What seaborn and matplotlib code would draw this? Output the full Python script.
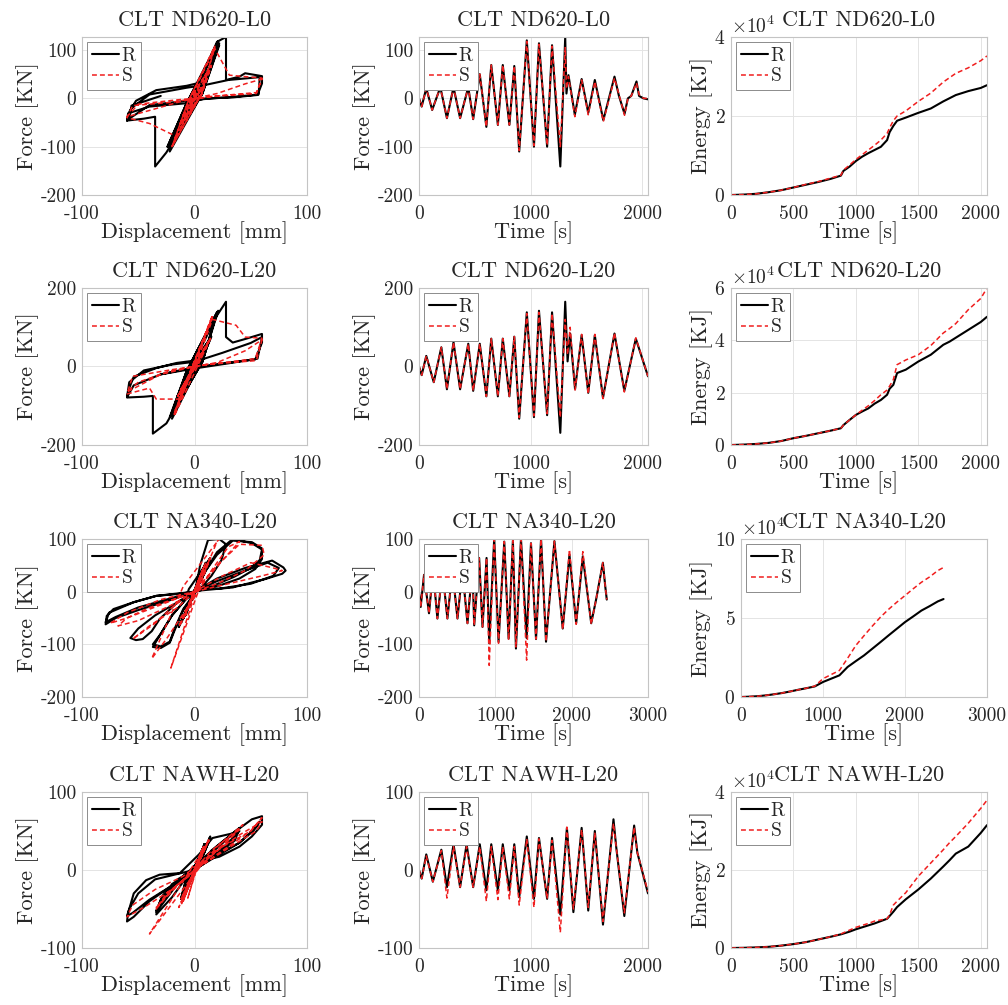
import matplotlib
matplotlib.use("Agg")
import matplotlib.pyplot as plt
from matplotlib.ticker import ScalarFormatter
import seaborn as sns

# ---------------------------------------------------------------- data
# Force-time histories (peaks of each half cycle), kN
l0_time = [0, 24, 65, 118, 191, 250, 309, 368, 441, 485, 544, 603, 647, 706, 750, 809, 853, 897, 965, 1029,
           1074, 1147, 1191, 1265, 1309, 1320, 1338, 1395, 1456, 1515, 1574, 1650, 1750, 1790, 1840, 1870,
           1900, 1947, 1970, 2010, 2050]
l0_force_R = [0, -17, 21, -24, 23, -41, 23, -41, 23, -43, 50, -59, 69, -55, 69, -55, 67, -110, 120, -100,
              114, -100, 110, -141, 127, 10, 48, -34, 40, -30, 38, -45, 45, 5, -32, 0, 5, 35, 5, 0, -2]
l0_force_S = [0, -17, 21, -24, 23, -41, 23, -41, 23, -43, 50, -59, 69, -55, 69, -55, 67, -108, 118, -98,
              112, -97, 108, -100, 105, 20, 45, -38, 38, -34, 35, -48, 42, 8, -35, 0, 5, 32, 8, 0, 0]

l20_time = [0, 24, 65, 132, 200, 250, 309, 368, 441, 485, 544, 603, 647, 706, 750, 809, 853, 897, 965, 1029,
            1074, 1147, 1191, 1265, 1309, 1330, 1353, 1397, 1456, 1515, 1574, 1647, 1750, 1838, 1941, 2050]
l20_force_R = [0, -22, 27, -40, 49, -58, 62, -58, 58, -62, 58, -76, 71, -76, 71, -76, 76, -133, 138, -129,
               142, -124, 138, -169, 165, 13, 84, -58, 80, -67, 80, -80, 84, -62, 71, -25]
l20_force_S = [0, -22, 27, -40, 49, -58, 62, -58, 58, -62, 58, -76, 71, -76, 71, -76, 76, -130, 135, -126,
               138, -120, 135, -130, 120, 30, 100, -60, 82, -70, 82, -82, 86, -65, 73, -25]

na340_time = [0, 22, 66, 131, 184, 241, 307, 372, 438, 504, 569, 635, 700, 723, 788, 832, 885, 920, 985, 1042,
              1117, 1174, 1230, 1270, 1336, 1410, 1467, 1533, 1599, 1664, 1774, 1883, 1971, 2059, 2146, 2256,
              2320, 2409, 2440, 2460]
na340_force_R = [0, -29, 32, -41, 40, -51, 40, -51, 40, -51, 40, -60, 48, -64, 64, -67, 64, -98, 100, -95,
                 95, -89, 97, -108, 100, -88, 92, -90, 100, -95, 96, -70, 70, -60, 67, -60, -15, 55, 10, -15]
na340_force_S = [0, -29, 32, -41, 40, -51, 40, -51, 40, -51, 40, -60, 48, -64, 64, -67, 64, -140, 100, -98,
                 95, -92, 97, -105, 100, -130, 92, -90, 100, -95, 96, -72, 80, -62, 76, -62, -15, 55, 10, -15]

nawh_time = [0, 24, 65, 124, 200, 250, 309, 368, 426, 485, 544, 603, 647, 706, 750, 809, 853, 897, 965, 1029,
             1074, 1147, 1191, 1265, 1324, 1382, 1456, 1515, 1574, 1647, 1741, 1765, 1838, 1926, 1955, 2050]
nawh_force_R = [0, -11, 20, -15, 26, -22, 33, -22, 33, -22, 33, -26, 33, -26, 33, -26, 33, -35, 43, -37,
                41, -37, 41, -57, 54, -54, 54, -52, 50, -70, 65, 30, -59, 57, 22, -30]
nawh_force_S = [0, -11, 18, -15, 25, -36, 30, -22, 30, -22, 30, -40, 30, -38, 30, -37, 30, -45, 40, -48,
                40, -37, 38, -80, 55, -50, 52, -48, 48, -66, 60, 30, -55, 55, 22, -28]

# Force-displacement loops (mm, kN)
l0_loop_disp_R = [0, 4, 1, -4, -1, 6, 2, -8, -3, 7, 2, -9, -3, 7, 2, -9, -3, 10, 4, -12,
                  -5, 15, 6, -13, -5, 15, 6, -13, -5, 15, 6, -22, -7, 21, 7, -24, -7, 22, 7, -24,
                  -7, 22, 7, -25, -35, -35, -45, -60, -58, -52, -34, -7, 4, 20, 28, 28, 40, 45, 60, 60,
                  56, 34, 10, -7, -40, -59, -60, -56, -40, -7, 10, 30, 58, 57, 34, 0, -40, -58, -56, -30]
l0_loop_force_R = [0, 20, 3, -17, -3, 22, 3, -24, -3, 23, 3, -41, -4, 23, 3, -43, -4, 50, 5, -59,
                   -6, 69, 6, -55, -6, 69, 6, -55, -6, 67, 6, -110, -10, 118, 10, -100, -10, 114, 10, -100,
                   -10, 110, 10, -112, -141, -38, -42, -46, -28, -5, 17, 26, 32, 117, 127, 38, 45, 52, 46, 31,
                   7, 2, 0, -10, -17, -31, -46, -20, 8, 22, 28, 38, 44, 8, 3, -3, -14, -42, -15, 5]
l0_loop_disp_S = [0, 4, 1, -4, -1, 6, 2, -8, -3, 7, 2, -9, -3, 10, 4, -12, -5, 15, 6, -13,
                  -5, 15, 6, -13, -5, 18, 6, -20, -6, 18, 6, -20, -6, 18, 31, 45, 60, 55, 20, 0,
                  -16, -40, -60, -55, -20, 0, 20, 45, 60, 55, 15, -10, -40, -60, -50, -15, 0]
l0_loop_force_S = [0, 19, 3, -17, -3, 22, 3, -24, -3, 23, 3, -41, -4, 50, 5, -59, -6, 68, 6, -55,
                   -6, 68, 6, -55, -6, 105, 8, -100, -8, 108, 8, -100, -8, 103, 48, 45, 42, 12, 5, 0,
                   -79, -52, -40, -15, -8, 0, 10, 30, 40, 10, 4, -5, -25, -38, -12, -3, 0]

l20_loop_disp_R = [0, 4, 1, -4, -1, 7, 2, -8, -3, 10, 3, -12, -4, 12, 4, -12, -4, 12, 4, -15,
                   -5, 14, 5, -15, -5, 15, 5, -20, -7, 20, 7, -22, -7, 21, 7, -21, -7, 20, 7, -25,
                   -37, -37, -45, -60, -58, -54, -34, -16, 0, 20, 28, 28, 34, 45, 60, 60, 54, 28, 4, -10,
                   -30, -54, -60, -58, -45, -20, 0, 25, 50, 60, 56, 30, 0, -30]
l20_loop_force_R = [0, 22, 3, -20, -3, 27, 4, -40, -5, 49, 5, -58, -6, 62, 6, -58, -6, 58, 6, -76,
                    -8, 71, 7, -76, -8, 76, 8, -133, -12, 138, 12, -129, -12, 142, 12, -124, -12, 138, 12, -145,
                    -171, -75, -77, -79, -55, -26, -4, 9, 15, 130, 165, 75, 61, 70, 83, 61, 18, 9, 0, -8,
                    -20, -48, -78, -40, -10, 5, 12, 35, 60, 75, 20, 8, -5, -20]
l20_loop_disp_S = [0, 4, -4, 7, -8, 10, -12, 12, -12, 12, -15, 14, -15, 15, -18, 16, -18, 16, -18, 16,
                   -14, 0, 16, 37, 45, 60, 54, 20, 0, -13, -34, -40, -60, -55, -20, 0, 20, 45, 60, 55,
                   10, -20, -50, -60, -30, 0]
l20_loop_force_S = [0, 22, -20, 27, -40, 49, -58, 62, -58, 58, -76, 71, -76, 76, -126, 127, -122, 130, -118, 127,
                    -83, -5, 120, 105, 75, 72, 20, 8, 0, -83, -83, -55, -70, -25, -8, 0, 10, 40, 68, 15,
                    5, -10, -40, -65, -20, 0]

na340_loop_disp_R = [0, 5, -5, 7, -8, 8, -10, 10, -12, 14, -14, 14, -5, -8, -20, -30, -37, -30, -22, -18,
                     -10, 0, 5, 12, 22, 28, 24, 15, 5, -8, -20, -30, -37, -30, -22, -18, -10, 0, 10, 20,
                     34, 51, 60, 60, 54, 40, 20, 0, -15, -35, -50, -57, -52, -46, -38, -31, -15, 0, 10, 20,
                     34, 51, 60, 58, 50, 35, 15, 0, -20, -50, -70, -79, -78, -72, -54, -34, -13, 0, 20, 45,
                     69, 79, 81, 78, 63, 34, 4, -20, -50, -70, -79, -76, -65, -54, -34, -13, 0, 20, 45, 65,
                     75, 70, 50, 20]
na340_loop_force_R = [0, 30, -29, 40, -45, 45, -51, 55, -60, 64, -67, 64, 5, -15, -45, -80, -105, -107, -97, -75,
                      -35, -5, 50, 98, 100, 90, 60, 30, 5, -15, -45, -80, -100, -104, -95, -72, -33, -3, 40, 70,
                      97, 94, 82, 62, 43, 25, 10, 0, -20, -45, -70, -88, -92, -90, -75, -52, -20, -3, 40, 75,
                      100, 92, 80, 60, 45, 28, 10, 0, -15, -35, -50, -62, -46, -33, -20, -8, -4, 0, 25, 45,
                      59, 46, 40, 34, 24, 8, 2, -12, -30, -48, -58, -40, -30, -20, -8, -3, 0, 20, 40, 55,
                      45, 30, 15, 5]
na340_loop_disp_S = [0, 5, -5, 7, -8, 8, -10, 10, -12, 14, -14, 14, -21, 0, 20, 22, -10, -38, -25, 0,
                     15, 30, 40, 25, 5, -20, -35, -55, -40, -15, 0, 20, 40, 60, 62, 45, 20, 0, -20, -50,
                     -68, -60, -40, -10, 0, 25, 50, 70, 78, 60, 30, 0, -30, -60, -75, -60, -30, 0]
na340_loop_force_S = [0, 30, -29, 40, -45, 45, -51, 55, -60, 64, -67, 64, -145, -8, 95, 100, 10, -127, -90, -10,
                      40, 85, 95, 60, 10, -30, -60, -90, -65, -30, 0, 50, 90, 88, 70, 40, 15, 0, -25, -55,
                      -65, -50, -30, -8, 0, 30, 55, 45, 40, 30, 15, 0, -25, -50, -60, -40, -15, 0]

nawh_loop_disp_R = [0, 3, -3, 5, -4, 7, -6, 9, -6, 9, -7, 9, -7, 9, -7, 9, -10, 14, 8, 0,
                    -12, -8, 0, 14, 8, 0, -12, -8, 0, 14, 8, 0, -20, -34, -30, -20, -5, 10, 40, 35,
                    22, 5, -10, -34, -30, -15, 0, 15, 40, 36, 22, 5, -15, -34, -28, -10, 10, 34, 40, 30,
                    15, 0, -20, -40, -54, -60, -59, -54, -43, -31, -13, 4, 16, 34, 51, 60, 60, 51, 40, 22,
                    10, 0, -20, -40, -55, -60, -58, -50, -35, -15, 0, 20, 40, 55, 58, 52, 40, 20, 5]
nawh_loop_force_R = [0, 11, -11, 20, -15, 26, -22, 33, -22, 33, -26, 33, -26, 33, -26, 33, -35, 43, 20, 5,
                     -37, -15, -3, 41, 20, 5, -37, -15, -3, 41, 20, 5, -35, -57, -40, -18, -5, 15, 54, 40,
                     25, 8, -8, -54, -38, -15, 0, 25, 54, 38, 22, 5, -12, -52, -32, -8, 18, 47, 50, 35,
                     15, 0, -20, -40, -60, -66, -55, -30, -13, -6, -4, 20, 41, 47, 65, 69, 58, 43, 30, 17,
                     13, 0, -20, -38, -55, -59, -50, -30, -12, -5, 0, 20, 35, 55, 62, 50, 35, 18, 5]
nawh_loop_disp_S = [0, 3, -3, 5, -6, 7, -6, 8, -10, 8, -10, 8, -10, 8, -12, 13, -14, 13, -12, 13,
                    -40, 0, 20, 43, 35, 15, 0, -20, -34, -25, -5, 15, 40, 30, 10, -15, -34, -20, 0, 25,
                    50, 60, 50, 30, 5, -20, -45, -60, -55, -35, -10, 10, 40, 60, 55, 30, 0]
nawh_loop_force_S = [0, 11, -11, 18, -36, 25, -22, 30, -40, 30, -38, 30, -37, 30, -45, 40, -48, 40, -37, 38,
                     -82, -5, 30, 58, 45, 20, 0, -25, -50, -30, -8, 25, 52, 38, 12, -20, -48, -25, 0, 30,
                     50, 67, 50, 30, 5, -25, -48, -60, -45, -25, -8, 15, 45, 62, 50, 28, 0]

# Cumulative dissipated energy, kJ
energy_time = [0, 100, 200, 300, 400, 500, 600, 700, 800, 880, 900, 950, 1000, 1050, 1100, 1150, 1200, 1250,
               1270, 1300, 1330, 1400, 1500, 1600, 1700, 1750, 1800, 1900, 2000, 2050]
l0_energy_R = [0, 100, 300, 700, 1200, 1900, 2600, 3300, 4100, 4900, 6100, 7200, 8600, 9700, 10600, 11400,
               12200, 13900, 15900, 17500, 18800, 19600, 20800, 21900, 23700, 24500, 25300, 26300, 27100, 27800]
l0_energy_S = [0, 100, 300, 700, 1200, 1900, 2700, 3400, 4300, 5000, 6300, 7600, 9000, 10200, 11400, 12600,
               13900, 15600, 17000, 18800, 20000, 21300, 23700, 25800, 28600, 29700, 30800, 32200, 34000, 35200]
l20_energy_R = [0, 150, 400, 800, 1500, 2600, 3500, 4500, 5500, 6400, 7600, 9600, 11500, 12800, 14000, 15800,
                17200, 19200, 21500, 23000, 27500, 28800, 31900, 34500, 38300, 39500, 41000, 44000, 47000, 49000]
l20_energy_S = [0, 150, 400, 800, 1500, 2600, 3500, 4500, 5500, 6400, 7600, 9600, 11500, 13300, 15000, 17000,
                19200, 21000, 22500, 25000, 30700, 32500, 34500, 38000, 42800, 44500, 46400, 51700, 56000, 60000]
na340_energy_time = [0, 100, 200, 300, 400, 500, 600, 700, 800, 900, 1000, 1100, 1200, 1300, 1400, 1500, 1600,
                     1700, 1800, 1900, 2000, 2100, 2200, 2300, 2400, 2470]
na340_energy_R = [0, 200, 500, 1000, 1700, 2500, 3500, 4600, 5600, 6700, 9500, 11600, 13700, 19000, 22700,
                  26300, 30500, 34700, 39000, 43200, 47400, 51000, 54700, 57500, 60500, 62000]
na340_energy_S = [0, 200, 500, 1000, 1700, 2500, 3500, 4600, 5600, 6900, 11600, 14200, 16800, 24500, 32600,
                  38800, 44800, 50500, 55500, 60000, 64200, 68500, 72600, 76000, 80000, 82000]
nawh_energy_R = [0, 50, 150, 300, 600, 1000, 1500, 2200, 2900, 3500, 3700, 4200, 4800, 5300, 5800, 6300,
                 6900, 7500, 8200, 9300, 10500, 12500, 15000, 17800, 20900, 22500, 24200, 26000, 29500, 31500]
nawh_energy_S = [0, 50, 150, 300, 600, 1000, 1500, 2200, 2900, 3600, 3900, 4600, 5300, 5800, 6300, 6900,
                 7200, 7500, 8500, 11000, 12000, 14200, 18400, 21800, 25200, 27000, 28600, 32000, 35800, 37900]

titles = ["CLT ND620-L0", "CLT ND620-L20", "CLT NA340-L20", "CLT NAWH-L20"]

# ---------------------------------------------------------------- style
sns.set_theme(style="whitegrid")
plt.rcParams.update({
    "font.family": "cmr10",
    "mathtext.fontset": "cm",
    "axes.unicode_minus": False,
    "axes.formatter.use_mathtext": False,
    "text.color": "#262626",
    "axes.labelcolor": "#262626",
})

W, H = 1008, 1005
fig = plt.figure(figsize=(W / 100, H / 100), dpi=100)
fig.patch.set_facecolor("white")

TXT = "#262626"
EDGE = "#c4c4c4"
RED = "#f01e1e"


def add_axes(x0, x1, y0, y1):
    return fig.add_axes([x0 / W, 1 - y1 / H, (x1 - x0) / W, (y1 - y0) / H])


def draw_pair(ax, xr, yr, xs, ys):
    sns.lineplot(x=xr, y=yr, sort=False, estimator=None, color="black", linewidth=1.5,
                 label="R", ax=ax)
    sns.lineplot(x=xs, y=ys, sort=False, estimator=None, color=RED, linewidth=1.1,
                 linestyle=(0, (3.2, 2.0)), label="S", ax=ax)


def finish(ax, title, xlabel, ylabel, xlim, ylim, xticks, yticks):
    ax.set_facecolor("white")
    ax.set_xlim(xlim)
    ax.set_ylim(ylim)
    ax.set_xticks(xticks)
    ax.set_yticks(yticks)
    ax.grid(True, color="#e4e4e4", linewidth=0.7)
    for sp in ax.spines.values():
        sp.set_visible(True)
        sp.set_color(EDGE)
        sp.set_linewidth(0.8)
    ax.tick_params(direction="in", length=3, width=0.6, color=EDGE, labelsize=14,
                   labelcolor=TXT)
    ax.tick_params(axis="x", pad=7)
    ax.tick_params(axis="y", pad=4)
    ax.set_title(title, fontsize=16, color=TXT, y=1.0, pad=8)
    ax.set_xlabel(xlabel, fontsize=16, labelpad=-1, color=TXT)
    ax.set_ylabel(ylabel, fontsize=16, labelpad=1, color=TXT)
    leg = ax.legend(loc="upper left", fontsize=14, frameon=True, fancybox=False, framealpha=1,
                    edgecolor="#8c8c8c", handlelength=1.4, handletextpad=0.15, borderpad=0.25,
                    labelspacing=0.15, borderaxespad=0.25)
    leg.get_frame().set_linewidth(0.7)


col_x = [(82, 307), (419, 648), (731, 987)]
row_y = [(37, 195), (288, 445), (539, 697), (792, 948)]

loops = [
    (l0_loop_disp_R, l0_loop_force_R, l0_loop_disp_S, l0_loop_force_S),
    (l20_loop_disp_R, l20_loop_force_R, l20_loop_disp_S, l20_loop_force_S),
    (na340_loop_disp_R, na340_loop_force_R, na340_loop_disp_S, na340_loop_force_S),
    (nawh_loop_disp_R, nawh_loop_force_R, nawh_loop_disp_S, nawh_loop_force_S),
]
histories = [
    (l0_time, l0_force_R, l0_force_S),
    (l20_time, l20_force_R, l20_force_S),
    (na340_time, na340_force_R, na340_force_S),
    (nawh_time, nawh_force_R, nawh_force_S),
]
energies = [
    (energy_time, l0_energy_R, l0_energy_S),
    (energy_time, l20_energy_R, l20_energy_S),
    (na340_energy_time, na340_energy_R, na340_energy_S),
    (energy_time, nawh_energy_R, nawh_energy_S),
]
force_lims = [(-200, 127), (-200, 200), (-200, 100), (-100, 100)]
force_ticks = [[-200, -100, 0, 100], [-200, 0, 200], [-200, -100, 0, 100], [-100, 0, 100]]
energy_lims = [(0, 40000), (0, 60000), (0, 100000), (0, 40000)]
energy_ticks = [[0, 20000, 40000], [0, 20000, 40000, 60000], [0, 50000, 100000], [0, 20000, 40000]]

for i in range(4):
    y0, y1 = row_y[i]
    long_run = (i == 2)
    tmax = 3000 if long_run else 2050

    # hysteresis loops
    ax = add_axes(*col_x[0], y0, y1)
    dR, fR, dS, fS = loops[i]
    draw_pair(ax, dR, fR, dS, fS)
    finish(ax, titles[i], "Displacement [mm]", "Force [KN]", (-100, 100), force_lims[i],
           [-100, 0, 100], force_ticks[i])

    # force histories
    ax = add_axes(*col_x[1], y0, y1)
    t, fR, fS = histories[i]
    draw_pair(ax, t, fR, t, fS)
    finish(ax, titles[i], "Time [s]", "Force [KN]", (0, tmax), force_lims[i],
           [0, 1000, 2000, 3000] if long_run else [0, 1000, 2000], force_ticks[i])

    # dissipated energy
    x0 = 741 if long_run else col_x[2][0]
    ax = add_axes(x0, col_x[2][1], y0, y1)
    t, eR, eS = energies[i]
    draw_pair(ax, t, eR, t, eS)
    finish(ax, titles[i], "Time [s]", "Energy [KJ]", (0, tmax), energy_lims[i],
           [0, 1000, 2000, 3000] if long_run else [0, 500, 1000, 1500, 2000], energy_ticks[i])
    fmt = ScalarFormatter(useMathText=True)
    fmt.set_powerlimits((4, 4))
    ax.yaxis.set_major_formatter(fmt)
    ax.yaxis.get_offset_text().set_fontsize(14)
    ax.yaxis.get_offset_text().set_color(TXT)

fig.savefig("out.png", dpi=100, facecolor="white")
